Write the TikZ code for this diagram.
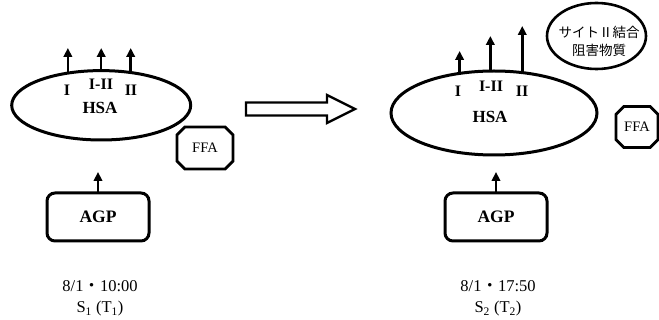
\documentclass[tikz,border=0pt]{standalone}
\usepackage{fontspec}
\setmainfont{Liberation Serif}
\newfontfamily\jp{Noto Sans CJK JP}
\usetikzlibrary{arrows.meta,shapes.geometric,shapes.misc}

\tikzset{
  protein/.style={draw, ellipse, line width=3pt, inner sep=0pt, outer sep=0pt},
  site/.style={font=\fontsize{16}{16}\selectfont\bfseries, inner sep=0pt},
  namelbl/.style={font=\fontsize{17}{17}\selectfont\bfseries, inner sep=0pt},
  agpbox/.style={draw, rectangle, rounded corners=8pt, line width=3pt,
    minimum width=102pt, minimum height=48pt, outer sep=0pt,
    font=\fontsize{17.5}{17.5}\selectfont\bfseries},
  ffabox/.style={draw, chamfered rectangle, chamfered rectangle xsep=11pt,
    line width=2.8pt, outer sep=0pt, inner sep=0pt,
    font=\fontsize{14.5}{14.5}\selectfont},
  inhib/.style={draw, ellipse, line width=2.6pt, inner sep=0pt,
    minimum width=99pt, minimum height=66pt},
  up/.style={-{Triangle[length=9pt,width=8.5pt]}, line width=2.5pt},
  stamp/.style={font=\fontsize{16.5}{21}\selectfont, align=center, inner sep=0pt},
}

\begin{document}
\begin{tikzpicture}[x=1pt, y=-1pt]
\useasboundingbox (0,0) rectangle (659,320);

% ---------- state S1 ----------
\node[protein, minimum width=179pt, minimum height=69.4pt] (hsaL) at (101.2,105.3) {};
\node[site] (iL)   at (67,90)  {I};
\node[site] (iiiL) at (101,84) {I-II};
\node[site] (iiL)  at (131,90) {II};
\node[namelbl] (nameL) at (100,108) {HSA};

\coordinate (topL) at (100,48);
\draw[up] (hsaL.136.6) -- (hsaL.136.6 |- topL);
\draw[up] (hsaL.north) -- (hsaL.north |- topL);
\draw[up] (hsaL.48.5)  -- (hsaL.48.5 |- topL);

\node[ffabox, minimum width=56pt, minimum height=42pt] (ffaL) at (205,148) {FFA};

\node[agpbox] (agpL) at (98,217) {AGP};
\coordinate (agpTopL) at (98,172);
\draw[up] (agpL.north) -- (agpTopL);

\node[stamp] (dateL) at (100,298.5) {8/1{\jp ・}10:00\\S\textsubscript{1} (T\textsubscript{1})};

% ---------- transition ----------
\draw[line width=2.4pt, line join=miter]
  (246,102.5) -- (327,102.5) -- (327,95) -- (355,109) -- (327,123)
  -- (327,115.5) -- (246,115.5) -- cycle;

% ---------- state S2 ----------
\node[protein, minimum width=206pt, minimum height=84pt] (hsaR) at (494,113) {};
\node[site] (iR)   at (458,91) {I};
\node[site] (iiiR) at (491,86) {I-II};
\node[site] (iiR)  at (522,91) {II};
\node[namelbl] (nameR) at (490,117) {HSA};

\coordinate (topR1) at (459,51);
\coordinate (topR2) at (490,36);
\coordinate (topR3) at (522,26);
\draw[up] (hsaR.131.3) -- (hsaR.131.3 |- topR1);
\draw[up] (hsaR.95.4)  -- (hsaR.95.4 |- topR2);
\draw[up] (hsaR.55.0)  -- (hsaR.55.0 |- topR3);

\node[inhib] (blocker) at (596.5,36) {};
\node[font=\jp\fontsize{13.5}{18}\selectfont, align=center, inner sep=0pt]
  (blockerTxt) at (599,41) {サイトⅡ結合\\阻害物質};

\node[ffabox, minimum width=42pt, minimum height=41pt] (ffaR) at (637,127) {FFA};

\node[agpbox] (agpR) at (496,217) {AGP};
\coordinate (agpTopR) at (496,172);
\draw[up] (agpR.north) -- (agpTopR);

\node[stamp] (dateR) at (498,298.5) {8/1{\jp ・}17:50\\S\textsubscript{2} (T\textsubscript{2})};
\end{tikzpicture}
\end{document}
